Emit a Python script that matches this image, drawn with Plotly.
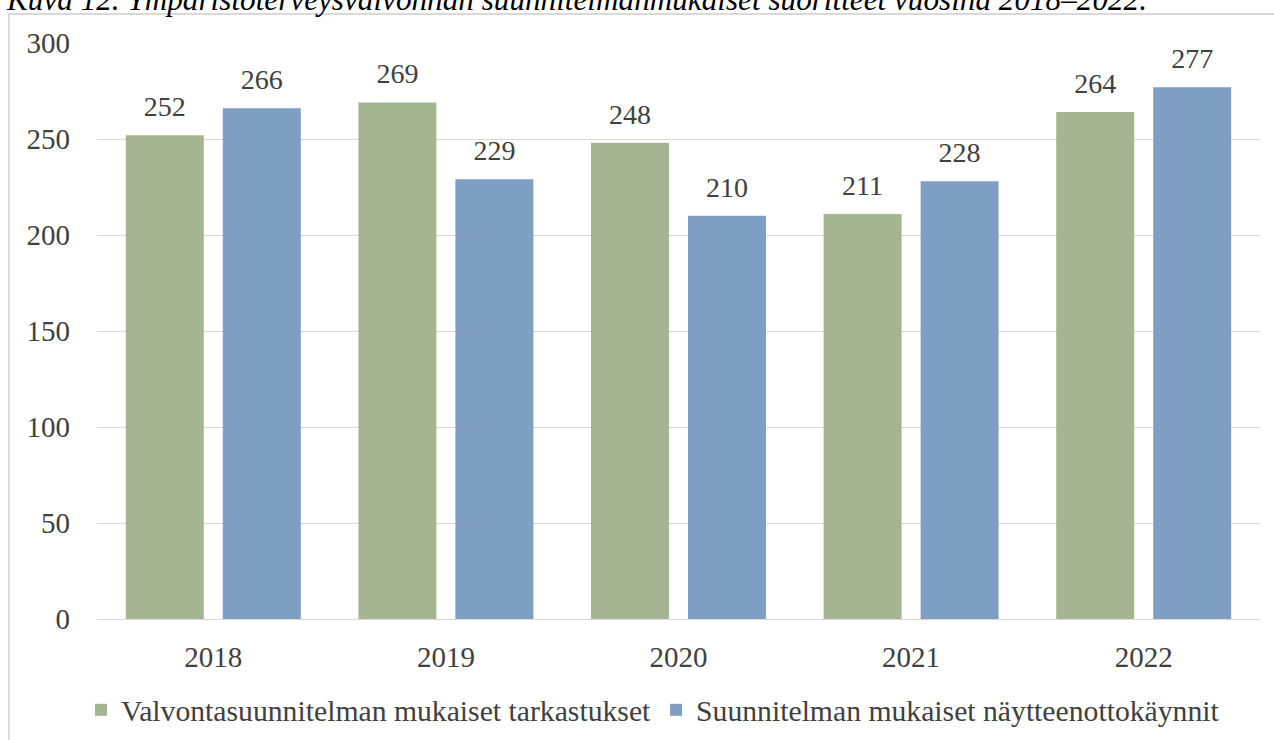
import plotly.graph_objects as go

years = ["2018", "2019", "2020", "2021", "2022"]
tarkastukset = [252, 269, 248, 211, 264]
naytteenotto = [266, 229, 210, 228, 277]
series_names = ["Valvontasuunnitelman mukaiset tarkastukset",
                "Suunnitelman mukaiset näytteenottokäynnit"]
y_ticks = [0, 50, 100, 150, 200, 250, 300]
title_text = "Kuva 12. Ympäristöterveysvalvonnan suunnitelmanmukaiset suoritteet vuosina 2018–2022."

W, H = 1274, 740
ml, mr, mt, mb = 97, 14, 43, 121
pw = W - ml - mr
ph = H - mt - mb

font_family = "Liberation Serif"
txt_col = "#404040"
colors = ["#A5B592", "#7F9EC3"]

fig = go.Figure()
for vals, name, col in zip([tarkastukset, naytteenotto], series_names, colors):
    fig.add_trace(go.Bar(x=years, y=vals, name=name,
                         marker=dict(color=col, line=dict(width=0))))
for vals, name in zip([tarkastukset, naytteenotto], series_names):
    fig.add_trace(go.Scatter(x=years, y=vals, mode="markers+text", text=vals,
                             textposition="top center", showlegend=False,
                             marker=dict(size=18, opacity=0),
                             textfont=dict(size=28, color=txt_col, family=font_family),
                             cliponaxis=False, hoverinfo="skip"))

def px_x(p):
    return (p - ml) / pw

def px_y(p):
    # p = pixels from the top of the figure
    return (H - mb - p) / ph

fig.update_layout(
    width=W, height=H,
    margin=dict(l=ml, r=mr, t=mt, b=mb, autoexpand=False),
    paper_bgcolor="white", plot_bgcolor="white",
    barmode="group", bargap=0.166, bargroupgap=0.196,
    scattermode="group", scattergap=0.166,
    font=dict(family=font_family, size=28, color=txt_col),
    showlegend=True,
    legend=dict(orientation="h", x=px_x(653), xanchor="center",
                y=px_y(710), yanchor="middle",
                font=dict(size=29.7, color=txt_col, family=font_family),
                itemwidth=30, itemsizing="constant", bgcolor="rgba(0,0,0,0)"),
    xaxis=dict(showgrid=False, showline=True, linecolor="#d9d9d9", linewidth=1,
               ticks="", ticklabelstandoff=12,
               tickfont=dict(size=29, color=txt_col, family=font_family)),
    yaxis=dict(range=[0, 300], tickvals=y_ticks, showgrid=True, gridcolor="#d9d9d9",
               gridwidth=1, zeroline=False, showline=False, ticks="",
               ticklabelstandoff=26,
               tickfont=dict(size=29, color=txt_col, family=font_family)),
    annotations=[dict(text="<i>" + title_text + "</i>", xref="paper", yref="paper",
                      x=px_x(4), y=px_y(19), xanchor="left", yanchor="bottom",
                      showarrow=False,
                      font=dict(size=31.2, color="black", family=font_family))],
    shapes=[dict(type="rect", xref="paper", yref="paper",
                 x0=px_x(9), x1=px_x(W + 20), y0=px_y(H + 20), y1=px_y(14),
                 line=dict(color="#d9d9d9", width=2), fillcolor="rgba(0,0,0,0)",
                 layer="below")],
)

fig.write_html("out.html", config={"displayModeBar": False},
               post_script="document.body.style.margin='0';document.body.style.overflow='hidden';")
